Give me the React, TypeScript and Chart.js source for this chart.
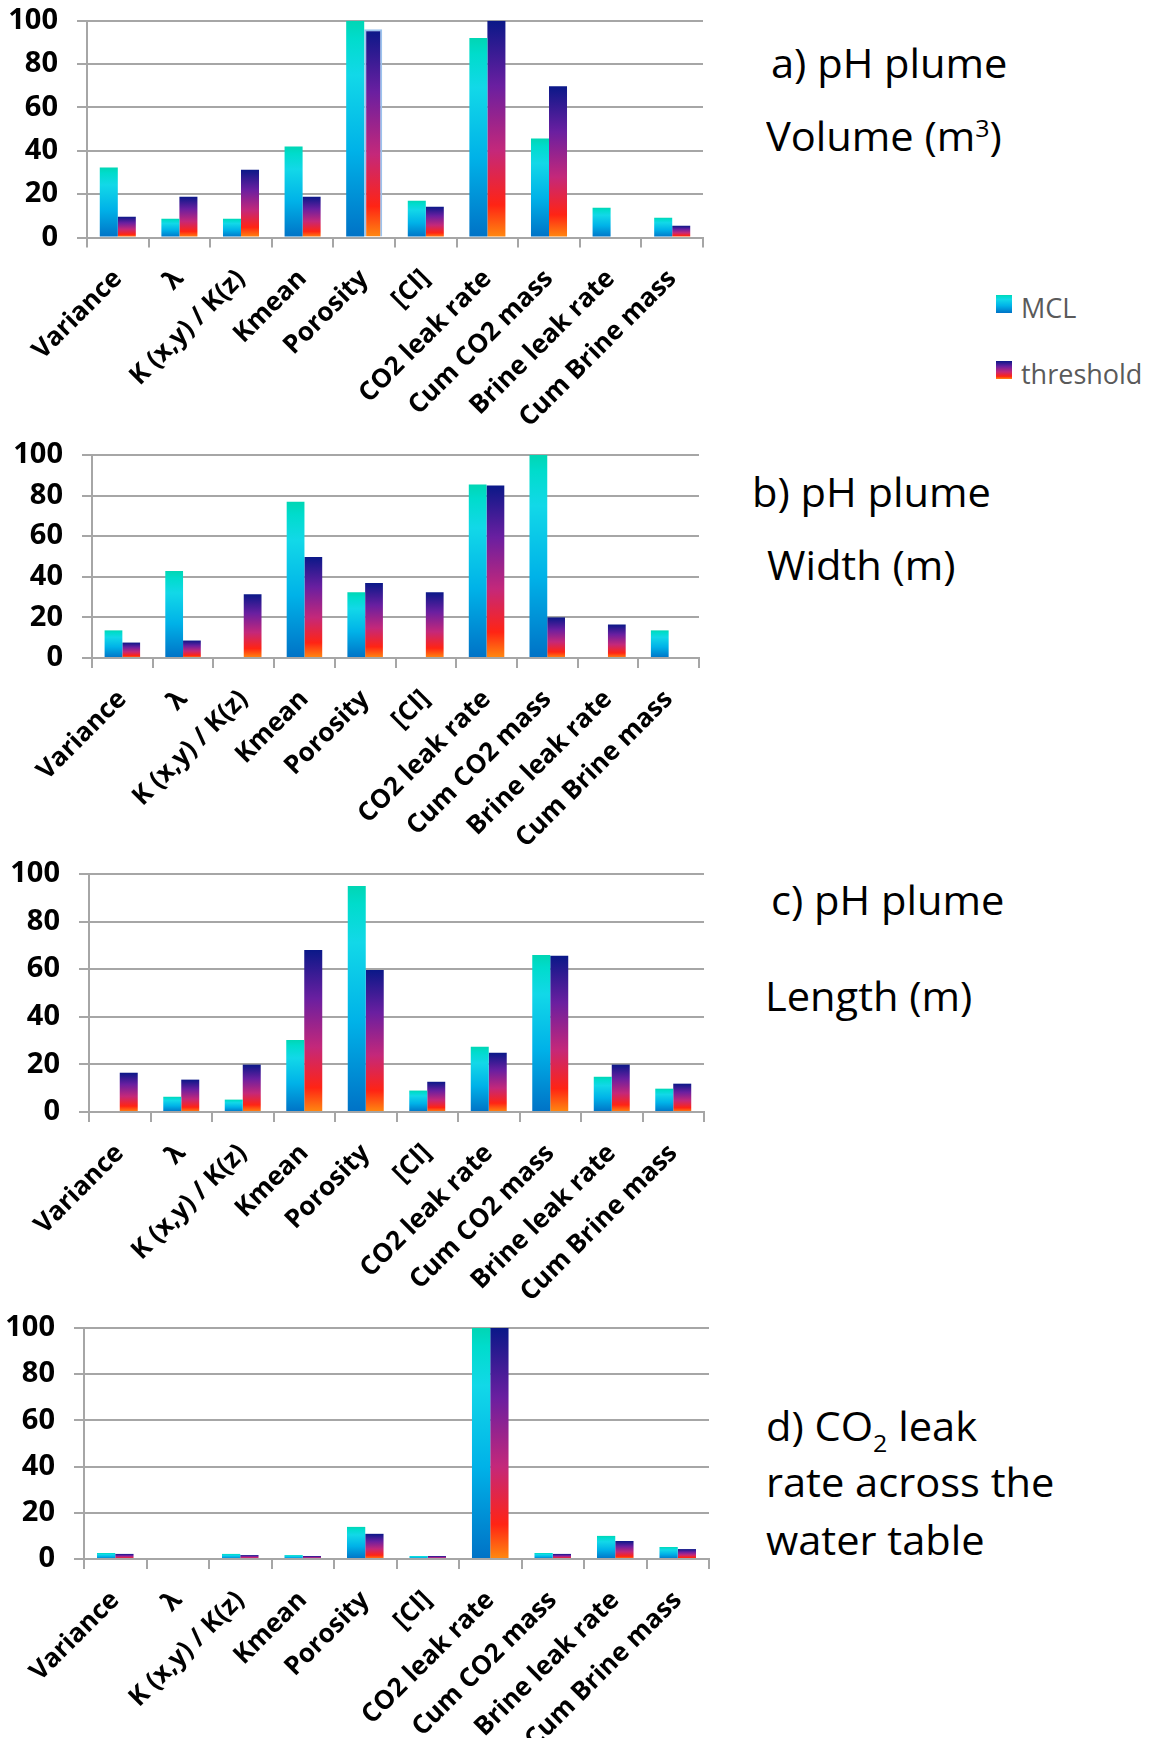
import React, { useEffect, useRef } from 'react';
import { Chart, registerables } from 'chart.js';

Chart.register(...registerables);

// ---------- data ----------
const categories = [
  'Variance',
  'λ',
  'K (x,y) / K(z)',
  'Kmean',
  'Porosity',
  '[Cl]',
  'CO2 leak rate',
  'Cum CO2 mass',
  'Brine leak rate',
  'Cum Brine mass',
];
const seriesNames = ['MCL', 'threshold'];
const yTicks = [0, 20, 40, 60, 80, 100];

const volumeMCL = [32.3, 8.6, 8.6, 42, 100, 17, 92, 45.7, 13.7, 9.1];
const volumeThreshold = [9.6, 18.8, 31.3, 18.8, 96, 14.2, 100, 69.8, 0, 5.4];

const widthMCL = [13.6, 42.8, 0, 77, 32.4, 0, 85.5, 100, 0, 13.6];
const widthThreshold = [7.6, 8.6, 31.4, 49.8, 36.9, 32.4, 85, 20, 16.5, 0];

const lengthMCL = [0, 6.4, 5.2, 30.3, 95, 9, 27.4, 66, 14.8, 9.8];
const lengthThreshold = [16.5, 13.6, 19.9, 68.1, 59.7, 12.7, 24.9, 65.6, 19.9, 11.9];

const leakMCL = [2.6, 0, 2.2, 1.7, 13.9, 1.3, 100, 2.6, 10, 5.2];
const leakThreshold = [2.2, 0, 1.7, 1.3, 10.9, 1.3, 100, 2.2, 7.8, 4.3];

// ---------- styles ----------
const FONT = '"Open Sans", "Noto Sans", sans-serif';
const GRID = '#a6a6a6';
const CW = 730;
const TOP_ROOM = 50;

const MCL_STOPS: [number, string][] = [
  [0, '#00d6b4'],
  [0.08, '#00dccc'],
  [0.25, '#12d8e8'],
  [0.6, '#00b2e8'],
  [1, '#0072c6'],
];
const THR_STOPS: [number, string][] = [
  [0, '#0a1888'],
  [0.3, '#6a1fa0'],
  [0.6, '#c4287a'],
  [0.85, '#ff2414'],
  [1, '#ff8a10'],
];

function gradientFill(stops: [number, string][]) {
  return (c: any) => {
    const fallback = stops[Math.floor(stops.length / 2)][1];
    const chart = c.chart;
    if (!chart || !chart.chartArea || c.type !== 'data') return fallback;
    const v = typeof c.raw === 'number' ? c.raw : 0;
    const ys = chart.scales.y;
    const top = ys.getPixelForValue(v);
    const base = ys.getPixelForValue(0);
    if (!isFinite(top) || !isFinite(base) || base - top < 0.5) return fallback;
    const g = chart.ctx.createLinearGradient(0, top, 0, base);
    stops.forEach(([o, col]) => g.addColorStop(o, col));
    return g;
  };
}

type Box = {
  canvasBottom: number;
  left: number;
  right: number;
  top: number;
  bottom: number;
};

function BarPanel({
  mcl,
  thr,
  box,
  highlight = -1,
}: {
  mcl: number[];
  thr: number[];
  box: Box;
  highlight?: number;
}) {
  const ref = useRef<HTMLCanvasElement>(null);
  const canvasTop = Math.floor(box.top - TOP_ROOM);
  const canvasHeight = box.canvasBottom - canvasTop;
  useEffect(() => {
    const canvas = ref.current!;
    const chart = new Chart(canvas, {
      type: 'bar',
      data: {
        labels: categories,
        datasets: [
          {
            label: seriesNames[0],
            data: mcl,
            backgroundColor: gradientFill(MCL_STOPS) as any,
            borderWidth: 0,
          },
          {
            label: seriesNames[1],
            data: thr,
            backgroundColor: gradientFill(THR_STOPS) as any,
            borderColor: '#9cc3ee',
            borderWidth: ((c: any) => (c.dataIndex === highlight ? 2 : 0)) as any,
          },
        ],
      },
      options: {
        responsive: false,
        animation: false,
        devicePixelRatio: 1,
        layout: {
          padding: {
            top: box.top - canvasTop,
            right: CW - box.right,
            left: 0,
            bottom: 0,
          },
        },
        plugins: {
          legend: { display: false },
          tooltip: { enabled: false },
        },
        datasets: {
          bar: { categoryPercentage: 0.585, barPercentage: 1 },
        },
        scales: {
          x: {
            grid: {
              offset: true,
              drawOnChartArea: false,
              drawTicks: true,
              tickLength: 10,
              color: GRID,
              lineWidth: 2,
            },
            border: { color: GRID, width: 2 },
            ticks: {
              autoSkip: false,
              minRotation: 45,
              maxRotation: 45,
              padding: 16,
              color: '#000',
              font: { family: FONT, size: 26, weight: 'bold' },
            },
            afterFit: (s: any) => {
              s.height = canvasHeight - (box.bottom - canvasTop);
            },
          },
          y: {
            min: 0,
            max: 100,
            afterBuildTicks: (s: any) => {
              s.ticks = yTicks.map((v) => ({ value: v }));
            },
            grid: { color: GRID, lineWidth: 2, tickLength: 10 },
            border: { color: GRID, width: 2 },
            ticks: {
              padding: 19,
              color: '#000',
              font: { family: FONT, size: 29, weight: 'bold' },
            },
            afterFit: (s: any) => {
              s.width = box.left;
            },
          },
        },
      },
    } as any);
    return () => chart.destroy();
  }, []);
  return (
    <canvas
      ref={ref}
      width={CW}
      height={canvasHeight}
      style={{
        position: 'absolute',
        left: 0,
        top: canvasTop,
        width: CW,
        height: canvasHeight,
      }}
    />
  );
}

const TITLE_FS = 40;
function TitleLine({
  left,
  baseline,
  children,
}: {
  left: number;
  baseline: number;
  children: React.ReactNode;
}) {
  return (
    <div
      style={{
        position: 'absolute',
        left,
        top: baseline - 0.888 * TITLE_FS,
        fontSize: TITLE_FS,
        lineHeight: 1,
        fontFamily: FONT,
        color: '#000',
        whiteSpace: 'nowrap',
        transform: 'scaleX(1.04)',
        transformOrigin: 'left center',
      }}
    >
      {children}
    </div>
  );
}

function LegendItem({
  top,
  label,
  stops,
}: {
  top: number;
  label: string;
  stops: [number, string][];
}) {
  const grad = `linear-gradient(to bottom, ${stops
    .map(([o, c]) => `${c} ${o * 100}%`)
    .join(', ')})`;
  return (
    <>
      <div
        style={{
          position: 'absolute',
          left: 996,
          top,
          width: 16,
          height: 18,
          background: grad,
        }}
      />
      <div
        style={{
          position: 'absolute',
          left: 1021,
          top: top + 23 - 0.888 * 27,
          fontSize: 27,
          lineHeight: 1,
          fontFamily: FONT,
          color: '#5a5a5a',
          whiteSpace: 'nowrap',
        }}
      >
        {label}
      </div>
    </>
  );
}

export default function App() {
  const sup: React.CSSProperties = { fontSize: 24, position: 'relative', top: -14 };
  const sub: React.CSSProperties = { fontSize: 24, position: 'relative', top: 11 };
  return (
    <div
      style={{
        position: 'absolute',
        left: 0,
        top: 0,
        width: 1152,
        height: 1738,
        background: '#fff',
        overflow: 'hidden',
      }}
    >
      <BarPanel
        mcl={volumeMCL}
        thr={volumeThreshold}
        highlight={4}
        box={{ canvasBottom: 445, left: 87, right: 703, top: 20.7, bottom: 237.5 }}
      />
      <BarPanel
        mcl={widthMCL}
        thr={widthThreshold}
        box={{ canvasBottom: 875, left: 92, right: 699, top: 455, bottom: 658 }}
      />
      <BarPanel
        mcl={lengthMCL}
        thr={lengthThreshold}
        box={{ canvasBottom: 1320, left: 89, right: 704, top: 874, bottom: 1112 }}
      />
      <BarPanel
        mcl={leakMCL}
        thr={leakThreshold}
        box={{ canvasBottom: 1738, left: 84, right: 709, top: 1328, bottom: 1559 }}
      />

      <TitleLine left={771} baseline={79}>a) pH plume</TitleLine>
      <TitleLine left={766} baseline={152}>
        Volume (m<span style={sup}>3</span>)
      </TitleLine>

      <LegendItem top={295} label={seriesNames[0]} stops={MCL_STOPS} />
      <LegendItem top={361} label={seriesNames[1]} stops={THR_STOPS} />

      <TitleLine left={752} baseline={508}>b) pH plume</TitleLine>
      <TitleLine left={767} baseline={581}>Width (m)</TitleLine>

      <TitleLine left={771} baseline={916}>c) pH plume</TitleLine>
      <TitleLine left={765} baseline={1012}>Length (m)</TitleLine>

      <TitleLine left={766} baseline={1442}>
        d) CO<span style={sub}>2</span> leak
      </TitleLine>
      <TitleLine left={766} baseline={1498}>rate across the</TitleLine>
      <TitleLine left={766} baseline={1556}>water table</TitleLine>
    </div>
  );
}
